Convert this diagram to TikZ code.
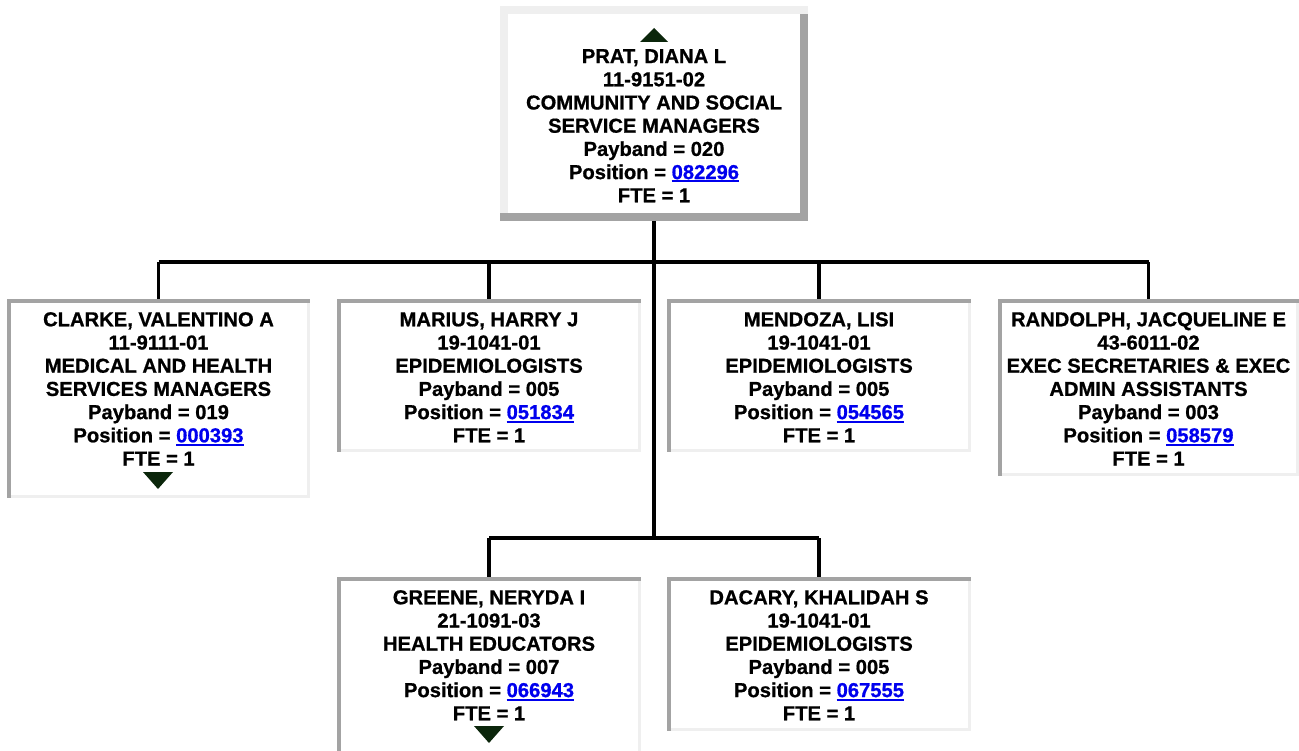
\documentclass[tikz,border=0pt]{standalone}
\usepackage{fontspec}
\setmainfont{Liberation Sans}[BoldFeatures={FakeBold=0.8}]
\usetikzlibrary{calc}
\definecolor{bdark}{HTML}{A3A3A3}
\definecolor{blight}{HTML}{EFEFEF}
\definecolor{lnkblue}{HTML}{0000EE}
\definecolor{trig}{HTML}{0B260B}
\newcommand\lnk[1]{{\color{lnkblue}\setbox0\hbox{#1}\rlap{\rule[-3.4pt]{\wd0}{2pt}}\box0}}
\newcommand\orgbox[5]{%
  \node[boxshape, minimum width={#4-#2}, minimum height={#5-#3}] (#1) at (#2,#3) {};
  \fill[bdark] (#2,#3) rectangle (#4,{#3+4});
  \fill[bdark] (#2,#3) rectangle ({#2+4},#5);
  \fill[blight] ({#4-3},{#3+4}) rectangle (#4,#5);
  \fill[blight] ({#2+4},{#5-3}) rectangle (#4,#5);
}
\tikzset{
  boxshape/.style={rectangle, fill=white, inner sep=0pt, outer sep=0pt, anchor=north west},
  txt/.style={anchor=north, align=center, inner sep=0pt, font=\fontsize{20.2}{23.2}\selectfont\bfseries},
  conn/.style={draw=black, line width=3.5pt},
  tri/.style={fill=trig},
}
\begin{document}
\begin{tikzpicture}[x=1pt,y=-1pt]
\useasboundingbox (0,0) rectangle (1299,751);
\fill[white] (0,0) rectangle (1299,751);

% top box
\node[boxshape, minimum width=308, minimum height=215] (top) at (500,6) {};
\fill[blight] (500,6) rectangle (808,14);
\fill[blight] (500,14) rectangle (508,213);
\fill[bdark] (800,14) rectangle (808,221);
\fill[bdark] (500,213) rectangle (800,221);
\fill[tri] (654,28) -- (668,42) -- (640,42) -- cycle;
\node[txt] (ttop) at (654,49) {PRAT, DIANA L\\11-9151-02\\COMMUNITY AND SOCIAL\\SERVICE MANAGERS\\Payband = 020\\Position = \lnk{082296}\\FTE = 1};

% child boxes
\orgbox{clarke}{7}{299}{310}{498}
\orgbox{marius}{337}{299}{641}{452}
\orgbox{mendoza}{667}{299}{971}{452}
\orgbox{randolph}{998}{299}{1299}{476}
\orgbox{greene}{337}{577}{641}{754}
\orgbox{dacary}{667}{577}{971}{731}

\node[txt] (tclarke) at (clarke.north |- 0,312) {CLARKE, VALENTINO A\\11-9111-01\\MEDICAL AND HEALTH\\SERVICES MANAGERS\\Payband = 019\\Position = \lnk{000393}\\FTE = 1};
\fill[tri] (143,472) -- (173,472) -- (158,489) -- cycle;
\node[txt] (tmarius) at (marius.north |- 0,312) {MARIUS, HARRY J\\19-1041-01\\EPIDEMIOLOGISTS\\Payband = 005\\Position = \lnk{051834}\\FTE = 1};
\node[txt] (tmendoza) at (mendoza.north |- 0,312) {MENDOZA, LISI\\19-1041-01\\EPIDEMIOLOGISTS\\Payband = 005\\Position = \lnk{054565}\\FTE = 1};
\node[txt] (trandolph) at (randolph.north |- 0,312) {RANDOLPH, JACQUELINE E\\43-6011-02\\EXEC SECRETARIES \& EXEC\\ADMIN ASSISTANTS\\Payband = 003\\Position = \lnk{058579}\\FTE = 1};
\node[txt] (tgreene) at (greene.north |- 0,590) {GREENE, NERYDA I\\21-1091-03\\HEALTH EDUCATORS\\Payband = 007\\Position = \lnk{066943}\\FTE = 1};
\fill[tri] (474,726) -- (504,726) -- (489,743) -- cycle;
\node[txt] (tdacary) at (dacary.north |- 0,590) {DACARY, KHALIDAH S\\19-1041-01\\EPIDEMIOLOGISTS\\Payband = 005\\Position = \lnk{067555}\\FTE = 1};

% connectors
\coordinate (bus1) at (0,262);
\coordinate (bus2) at (0,538);
\draw[conn] (top.south) -- (top.south |- bus2);
\draw[conn] (clarke.north |- bus1) -- (randolph.north |- bus1);
\draw[conn] (clarke.north |- bus1) -- (clarke.north);
\draw[conn] (marius.north |- bus1) -- (marius.north);
\draw[conn] (mendoza.north |- bus1) -- (mendoza.north);
\draw[conn] (randolph.north |- bus1) -- (randolph.north);
\draw[conn] (greene.north |- bus2) -- (dacary.north |- bus2);
\draw[conn] (greene.north |- bus2) -- (greene.north);
\draw[conn] (dacary.north |- bus2) -- (dacary.north);
\end{tikzpicture}
\end{document}
